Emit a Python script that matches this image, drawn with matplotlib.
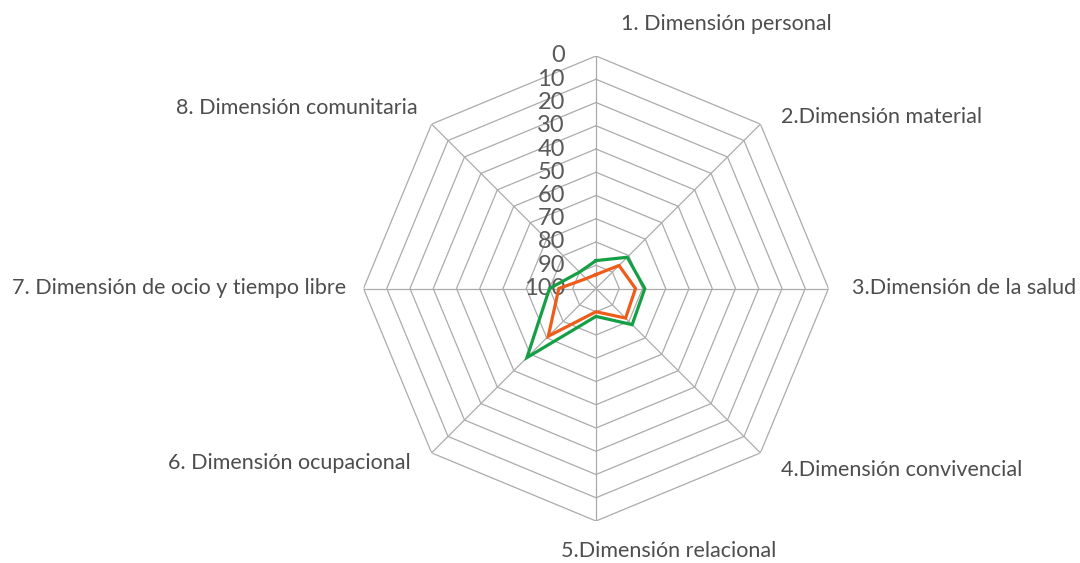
import numpy as np
import matplotlib
matplotlib.use("Agg")
import matplotlib.pyplot as plt

# Dimensions of the quality-of-life profile (clockwise from the top)
categories = [
    "1. Dimensión personal",
    "2.Dimensión material",
    "3.Dimensión de la salud",
    "4.Dimensión convivencial",
    "5.Dimensión relacional",
    "6. Dimensión ocupacional",
    "7. Dimensión de ocio y tiempo libre",
    "8. Dimensión comunitaria",
]
series_green = [88, 81, 79, 78, 88, 58, 80, 90]
series_orange = [94, 86, 83, 82, 90, 71, 84, 94]
radial_ticks = [0, 10, 20, 30, 40, 50, 60, 70, 80, 90, 100]

TEXT = "#4d4d4d"
TICK_TEXT = "#595959"
GRID = "#ababab"
GREEN = "#159f45"
ORANGE = "#ee5c1a"

plt.rcParams["font.family"] = ["Lato", "DejaVu Sans"]

W, H, DPI = 1080, 563, 100
fig = plt.figure(figsize=(W / DPI, H / DPI), dpi=DPI)
cx, cy, R = 596, 288.5, 232.5
ax = fig.add_axes([(cx - R) / W, (H - cy - R) / H, 2 * R / W, 2 * R / H],
                  projection="polar")
ax.set_theta_zero_location("N")
ax.set_theta_direction(-1)
ax.set_ylim(100, 0)  # 0 on the outer ring, 100 at the centre
ax.grid(False)
ax.spines["polar"].set_visible(False)
ax.set_xticks([])
ax.set_yticks([])
ax.patch.set_alpha(0)

n = len(categories)
theta = np.arange(n) * 2 * np.pi / n
theta_closed = np.append(theta, theta[0])

# polygonal rings and spokes
for v in radial_ticks[:-1]:
    ax.plot(theta_closed, [v] * (n + 1), color=GRID, lw=0.9, zorder=1)
for t in theta:
    ax.plot([t, t], [0, 100], color=GRID, lw=0.9, zorder=1)

# data series
ax.plot(theta_closed, series_green + series_green[:1], color=GREEN, lw=2.3,
        zorder=3, solid_joinstyle="miter")
ax.plot(theta_closed, series_orange + series_orange[:1], color=ORANGE, lw=2.3,
        zorder=4, solid_joinstyle="miter")

# radial tick labels along the top spoke
for v in radial_ticks:
    ax.annotate(str(v), xy=(0, v), xytext=(-31, 0), textcoords="offset pixels",
                ha="right", va="center", fontsize=17, fontweight="normal",
                color=TICK_TEXT, annotation_clip=False, zorder=2)

# category labels around the outer ring
label_offsets = [
    (25, 32, "left"),
    (21, 7, "left"),
    (23, 0, "left"),
    (21, -17, "left"),
    (-35, -30, "left"),
    (-21, -10, "right"),
    (-17, 1, "right"),
    (-14, 16, "right"),
]
for t, name, (dx, dy, ha) in zip(theta, categories, label_offsets):
    ax.annotate(name, xy=(t, 0), xytext=(dx, dy), textcoords="offset pixels",
                ha=ha, va="center", fontsize=15.5, fontweight="normal",
                color=TEXT, annotation_clip=False)

fig.savefig("out.png", dpi=DPI, facecolor="white")
